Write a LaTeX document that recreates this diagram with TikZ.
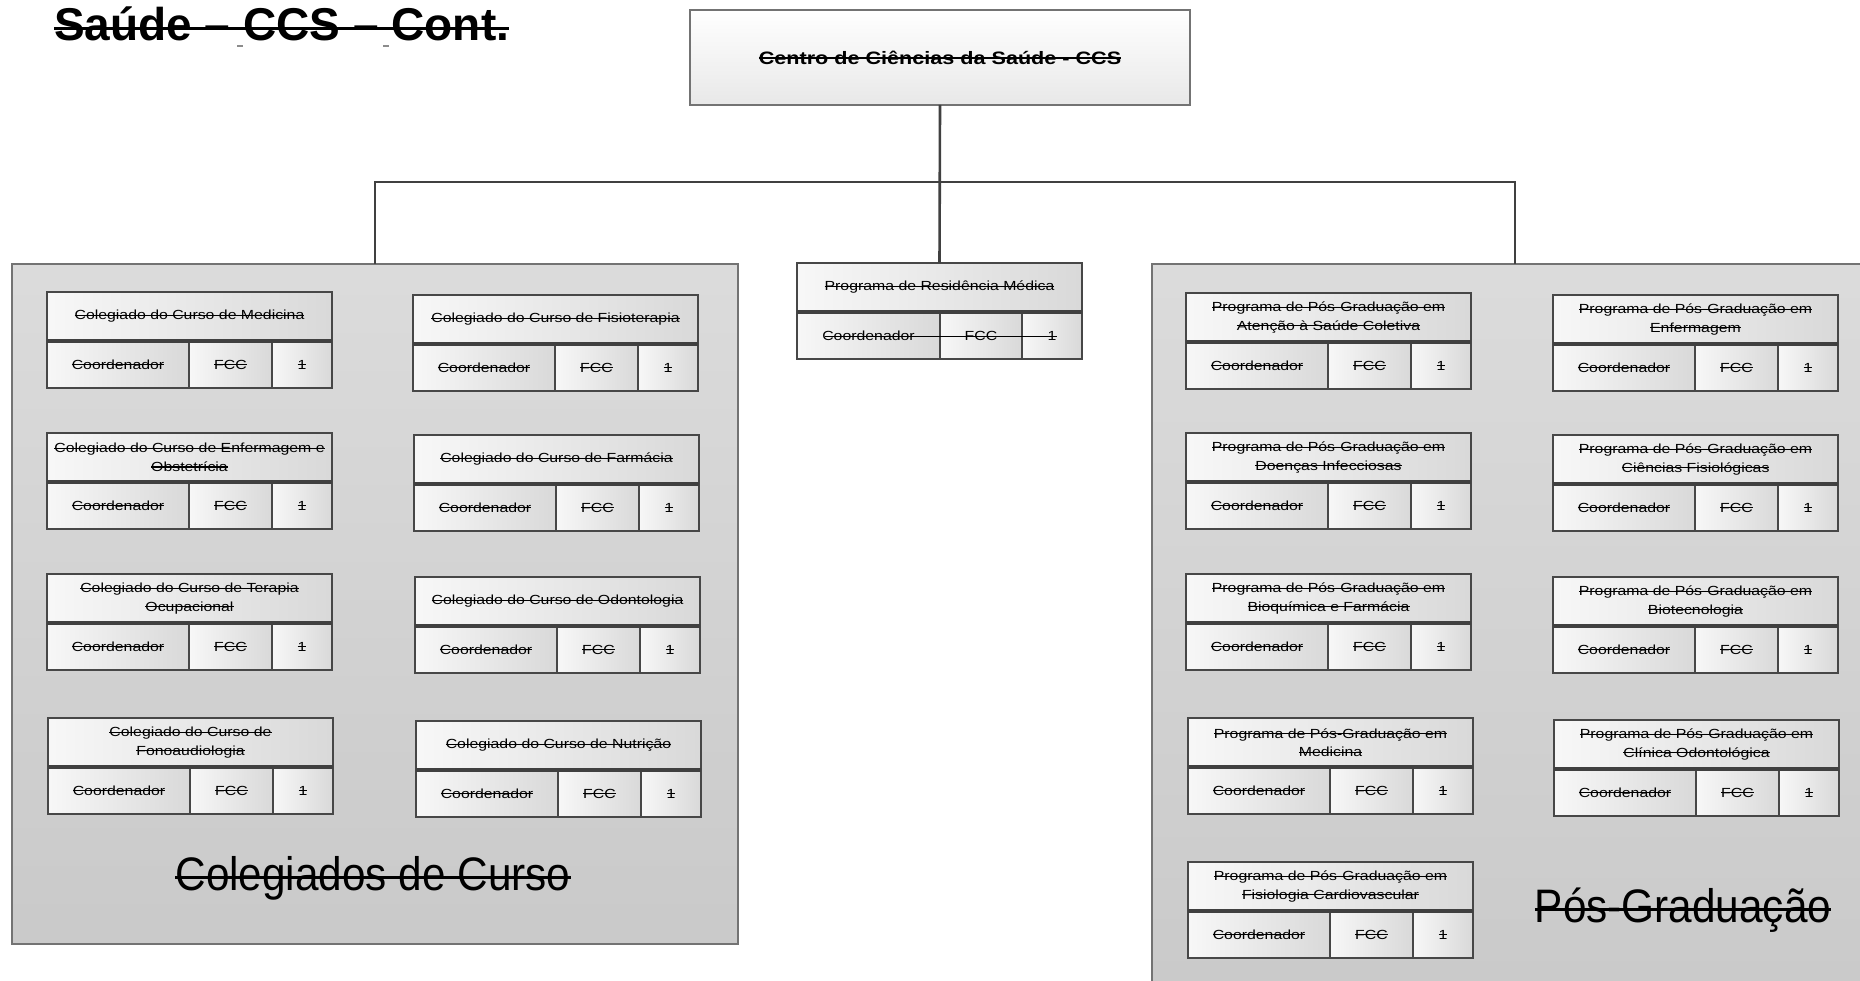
\documentclass[tikz,border=0pt]{standalone}
\usepackage{fontspec}
\setmainfont{Liberation Sans}
\newfontfamily\boxfam[FakeStretch=1.2]{Liberation Sans}
\newfontfamily\bigfam[FakeStretch=0.9]{Liberation Sans}
\newsavebox\stkbox
\newcommand\stkx[3]{\leavevmode\sbox\stkbox{#3}\rlap{\rule[#1]{\wd\stkbox}{#2}}\usebox\stkbox}
\newcommand\stk[1]{\stkx{0.3em}{0.08em}{#1}}
\newcommand\bigstk[1]{\stkx{0.24em}{0.065em}{#1}}
\newcommand\boxfont{\boxfam\fontsize{13.2pt}{18.5pt}\selectfont}
\newcommand\pg[1]{\stk{Programa de Pós-Graduação em}\\\stk{#1}}
\newcommand\unitbox[4]{%
  \node[hdr, anchor=north west] (#1) at (#2,#3) {#4};
  \node[cell, minimum width=142pt, anchor=north west] (#1-c) at (#1.south west) {\stk{Coordenador}};
  \node[cell, minimum width=83pt, anchor=north west] (#1-f) at (#1-c.north east) {\stk{FCC}};
  \node[cell, minimum width=60pt, anchor=north west] (#1-n) at (#1-f.north east) {\stk{1}};
  \draw[sepline] (#1.south west) -- (#1.south east);
}
\begin{document}
\begin{tikzpicture}[x=1pt,y=-1pt,
  panel/.style={draw=black!55, line width=1.4pt, top color=black!14, bottom color=black!21, inner sep=0pt, outer sep=0pt},
  hdr/.style={draw=black!72, line width=1.2pt, left color=white!97!black, right color=black!15, minimum width=285pt, minimum height=49pt, inner sep=0pt, outer sep=0pt, align=center, font=\boxfont, text=black},
  cell/.style={draw=black!72, line width=1.2pt, left color=white!97!black, right color=black!15, minimum height=47pt, inner sep=0pt, outer sep=0pt, font=\boxfont, text=black},
  topbox/.style={draw=black!55, line width=1.2pt, top color=white, bottom color=black!9, minimum width=500pt, minimum height=95pt, inner sep=0pt, outer sep=0pt, font=\boxfam\bfseries\fontsize{18pt}{22pt}\selectfont},
  sepline/.style={draw=black!75, line width=3.5pt},
  conn/.style={draw=black!75, line width=2.6pt},
  biglabel/.style={anchor=base, inner sep=0pt, font=\bigfam\fontsize{47pt}{50pt}\selectfont}
]
\useasboundingbox (0,0) rectangle (1860,981);
\clip (0,0) rectangle (1860,981);
\fill[white] (0,0) rectangle (1860,981);

% title
\node[anchor=base west, inner sep=0pt, font=\bfseries\fontsize{46pt}{50pt}\selectfont] (title) at (54,41) {\bigstk{Saúde – CCS – Cont.}};
\draw[black!45, line width=1.3pt] (237,46) -- (243,46);
\draw[black!45, line width=1.3pt] (383,46) -- (389,46);

% panels
\node[panel, minimum width=726pt, minimum height=680pt, anchor=north west] (colpanel) at (12,264) {};
\node[panel, minimum width=726pt, minimum height=740pt, anchor=north west] (pospanel) at (1152,264) {};

% top box
\node[topbox, anchor=north west] (ccs) at (690,10) {\stk{Centro de Ciências da Saúde - CCS}};

% residency box
\node[hdr, anchor=north west] (res) at (797,263) {\stk{Programa de Residência Médica}};
\node[cell, minimum width=143pt, anchor=north west] (res-c) at (res.south west) {Coordenador};
\node[cell, minimum width=82pt, anchor=north west] (res-f) at (res-c.north east) {FCC};
\node[cell, minimum width=60pt, anchor=north west] (res-n) at (res-f.north east) {1};
\draw[sepline] (res.south west) -- (res.south east);
\draw[black, line width=1.05pt] ([xshift=28pt,yshift=-1pt]res-c.west) -- ([xshift=-25pt,yshift=-1pt]res-n.east);

% connectors
\coordinate (bar) at (940,182);
\draw[conn] (colpanel.north) |- (bar) -| (pospanel.north);
\draw[conn] (ccs.south) -- (res.north);

% left panel boxes
\unitbox{med}{47}{292}{\stk{Colegiado do Curso de Medicina}}
\unitbox{enf}{47}{433}{\stk{Colegiado do Curso de Enfermagem e}\\\stk{Obstetrícia}}
\unitbox{ter}{47}{574}{\stk{Colegiado do Curso de Terapia}\\\stk{Ocupacional}}
\unitbox{fon}{48}{718}{\stk{Colegiado do Curso de}\\\stk{Fonoaudiologia}}
\unitbox{fis}{413}{295}{\stk{Colegiado do Curso de Fisioterapia}}
\unitbox{far}{414}{435}{\stk{Colegiado do Curso de Farmácia}}
\unitbox{odo}{415}{577}{\stk{Colegiado do Curso de Odontologia}}
\unitbox{nut}{416}{721}{\stk{Colegiado do Curso de Nutrição}}
\node[biglabel] (collabel) at (373,890) {\bigstk{Colegiados de Curso}};

% right panel boxes
\unitbox{pasc}{1186}{293}{\pg{Atenção à Saúde Coletiva}}
\unitbox{pdi}{1186}{433}{\pg{Doenças Infecciosas}}
\unitbox{pbf}{1186}{574}{\pg{Bioquímica e Farmácia}}
\unitbox{pmed}{1188}{718}{\pg{Medicina}}
\unitbox{pfc}{1188}{862}{\pg{Fisiologia Cardiovascular}}
\unitbox{penf}{1553}{295}{\pg{Enfermagem}}
\unitbox{pcf}{1553}{435}{\pg{Ciências Fisiológicas}}
\unitbox{pbio}{1553}{577}{\pg{Biotecnologia}}
\unitbox{pco}{1554}{720}{\pg{Clínica Odontológica}}
\node[biglabel] (poslabel) at (1683,922) {\bigstk{Pós-Graduação}};
\end{tikzpicture}
\end{document}
